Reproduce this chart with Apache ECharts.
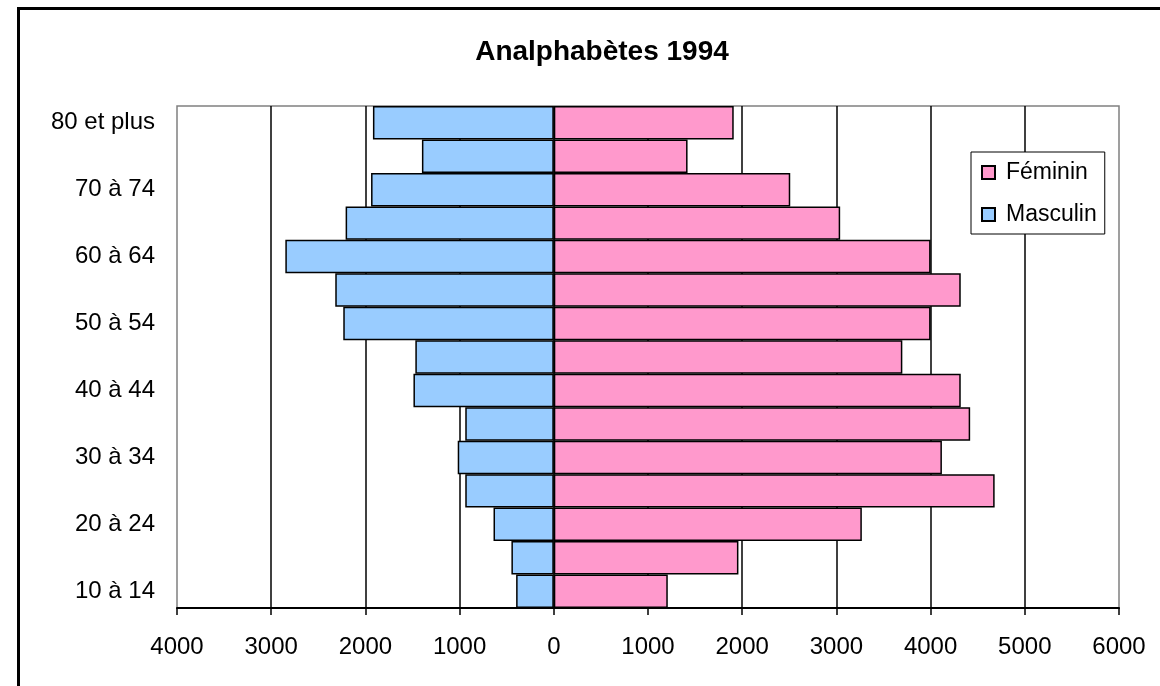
<!DOCTYPE html>
<html>
<head>
<meta charset="utf-8">
<title>Analphabètes 1994</title>
<script src="https://cdn.jsdelivr.net/npm/echarts@6/dist/echarts.min.js"></script>
<style>
  html, body { margin: 0; padding: 0; background: #fff; }
  #chart { width: 1160px; height: 686px; }
</style>
</head>
<body>
<div id="chart"></div>
<script>
// tranches d'age, du bas vers le haut
var ageGroups = ['10 à 14', '15 à 19', '20 à 24', '25 à 29', '30 à 34', '35 à 39', '40 à 44',
  '45 à 49', '50 à 54', '55 à 59', '60 à 64', '65 à 69', '70 à 74', '75 à 79', '80 et plus'];
var masculin = [400, 450, 640, 940, 1020, 940, 1490, 1470, 2235, 2320, 2850, 2210, 1940, 1400, 1920];
var feminin = [1210, 1960, 3270, 4680, 4120, 4420, 4320, 3700, 4000, 4320, 4000, 3040, 2510, 1420, 1910];
var xTicks = { min: -4000, max: 6000, step: 1000 };

var font = 'Arial, "Liberation Sans", sans-serif';
var chart = echarts.init(document.getElementById('chart'));

chart.setOption({
  animation: false,
  backgroundColor: '#fff',
  title: {
    text: 'Analphabètes 1994',
    left: 597,
    textAlign: 'center',
    top: 33,
    textStyle: { fontFamily: font, fontSize: 28, fontWeight: 'bold', color: '#000' }
  },
  legend: {
    data: ['Féminin', 'Masculin'],
    orient: 'vertical',
    left: 971,
    top: 152,
    padding: [9, 8, 8, 10],
    itemGap: 19,
    itemWidth: 13,
    itemHeight: 13,
    icon: 'rect',
    borderColor: '#000',
    borderWidth: 1,
    backgroundColor: '#fff',
    textStyle: { fontFamily: font, fontSize: 23, color: '#000', padding: [0, 0, 0, 6] }
  },
  graphic: [{
    type: 'rect',
    shape: { x: 18.5, y: 8.5, width: 1300, height: 900 },
    style: { fill: 'none', stroke: '#000', lineWidth: 3 },
    silent: true
  }],
  grid: {
    left: 177,
    right: 41,
    top: 106,
    bottom: 78,
    show: true,
    borderColor: '#808080',
    borderWidth: 1.5
  },
  xAxis: {
    type: 'value',
    min: xTicks.min,
    max: xTicks.max,
    interval: xTicks.step,
    axisLine: { show: true, onZero: false, lineStyle: { color: '#000', width: 2 } },
    axisTick: { show: true, length: 7, lineStyle: { color: '#000', width: 1.5 } },
    axisLabel: {
      margin: 27,
      fontFamily: font,
      fontSize: 24,
      color: '#000',
      formatter: function (v) { return Math.abs(v); }
    },
    splitLine: {
      show: true,
      showMinLine: false,
      showMaxLine: false,
      lineStyle: { color: '#000', width: 1.5 }
    }
  },
  yAxis: {
    type: 'category',
    data: ageGroups,
    axisLine: { show: false, onZero: false },
    axisTick: { show: false },
    axisLabel: {
      interval: 1,
      margin: 22,
      fontFamily: font,
      fontSize: 24,
      color: '#000'
    }
  },
  series: [
    {
      name: 'Féminin',
      type: 'bar',
      data: feminin,
      barGap: '-100%',
      barCategoryGap: 0,
      itemStyle: { color: '#FF99CC', borderColor: '#000', borderWidth: 1.5 }
    },
    {
      name: 'Masculin',
      type: 'bar',
      data: masculin.map(function (v) { return -v; }),
      barGap: '-100%',
      barCategoryGap: 0,
      itemStyle: { color: '#99CCFF', borderColor: '#000', borderWidth: 1.5 }
    }
  ]
});
</script>
</body>
</html>
